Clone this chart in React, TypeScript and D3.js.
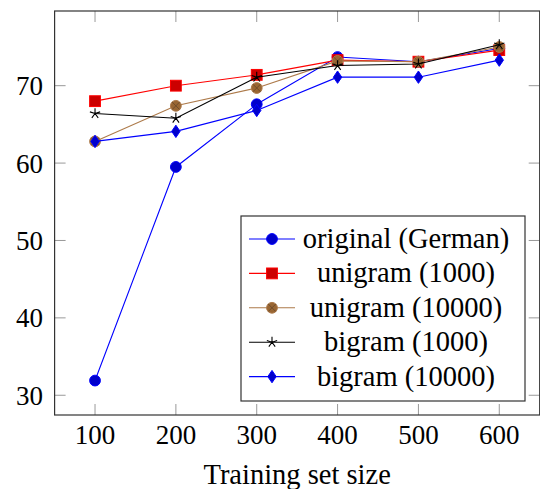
import React from "react";
import * as d3 from "d3";

const sizes = [100, 200, 300, 400, 500, 600];
const originalGerman = [31.9, 59.5, 67.6, 73.7, 73.1, 74.8];
const unigram1000 = [68.0, 70.0, 71.4, 73.3, 73.1, 74.6];
const unigram10000 = [62.8, 67.4, 69.7, 73.2, 73.1, 75.0];
const bigram1000 = [66.4, 65.8, 71.1, 72.6, 72.8, 75.3];
const bigram10000 = [62.8, 64.1, 66.8, 71.1, 71.1, 73.3];
const yTicks = [30, 40, 50, 60, 70];
const seriesNames = ["original (German)", "unigram (1000)", "unigram (10000)", "bigram (1000)", "bigram (10000)"];

type Mark = "circle" | "square" | "otimes" | "star" | "diamond";
const series: { name: string; values: number[]; line: string; fill: string; mark: Mark }[] = [
  { name: seriesNames[0], values: originalGerman, line: "#0000FF", fill: "#0000CC", mark: "circle" },
  { name: seriesNames[1], values: unigram1000, line: "#FF0000", fill: "#CC0000", mark: "square" },
  { name: seriesNames[2], values: unigram10000, line: "#AD7A4A", fill: "#996633", mark: "otimes" },
  { name: seriesNames[3], values: bigram1000, line: "#000000", fill: "#000000", mark: "star" },
  { name: seriesNames[4], values: bigram10000, line: "#0000FF", fill: "#0000CC", mark: "diamond" },
];

const W = 540, H = 489;
const left = 54.6, right = 539.7, top = 11, bottom = 415;
const FONT = "Times New Roman, Liberation Serif, Tinos, Times, DejaVu Serif, serif";

const x = d3.scaleLinear().domain([50, 650]).range([left, right]);
const y = d3.scaleLinear().domain([27.45, 79.65]).range([bottom, top]);

function Marker({ cx, cy, kind, line, fill }: { cx: number; cy: number; kind: Mark; line: string; fill: string }) {
  const r = 5.4;
  if (kind === "circle") return <circle cx={cx} cy={cy} r={r} fill={fill} stroke={line} strokeWidth={1} />;
  if (kind === "square") return <rect x={cx - r} y={cy - r} width={2 * r} height={2 * r} fill={fill} stroke={line} strokeWidth={1} />;
  if (kind === "otimes") {
    const d = r * 0.707;
    return (
      <g>
        <circle cx={cx} cy={cy} r={r} fill={fill} stroke={line} strokeWidth={1} />
        <path d={`M${cx - d},${cy - d}L${cx + d},${cy + d}M${cx - d},${cy + d}L${cx + d},${cy - d}`} stroke="#6b4a2a" strokeWidth={0.9} />
      </g>
    );
  }
  if (kind === "star") {
    const arms = d3.range(5).map((i) => {
      const a = -Math.PI / 2 + (i * 2 * Math.PI) / 5;
      return `M${cx},${cy}L${cx + r * Math.cos(a)},${cy + r * Math.sin(a)}`;
    });
    return <path d={arms.join("")} stroke={line} strokeWidth={1.1} fill="none" />;
  }
  const w = 4.2, h = 6.2;
  return <path d={`M${cx},${cy - h}L${cx + w},${cy}L${cx},${cy + h}L${cx - w},${cy}Z`} fill={fill} stroke={line} strokeWidth={1} />;
}

export default function App() {
  const lineGen = d3
    .line<number>()
    .x((_, i) => x(sizes[i]))
    .y((v) => y(v));
  const tickLen = 11;
  const legX = 241, legY = 216, legW = 284, legH = 185;
  const rowY0 = 239, rowStep = 34.4;
  return (
    <div style={{ fontFamily: FONT }}>
      <svg width={W} height={H} style={{ position: "absolute", left: 0, top: 0, background: "#fff" }} fontFamily={FONT}>
        {sizes.map((s) => (
          <g key={"xt" + s} stroke="#999" strokeWidth={1}>
            <line x1={x(s)} x2={x(s)} y1={bottom} y2={bottom - tickLen} />
            <line x1={x(s)} x2={x(s)} y1={top} y2={top + tickLen} />
          </g>
        ))}
        {yTicks.map((t) => (
          <g key={"yt" + t} stroke="#999" strokeWidth={1}>
            <line x1={left} x2={left + tickLen} y1={y(t)} y2={y(t)} />
            <line x1={right} x2={right - tickLen} y1={y(t)} y2={y(t)} />
          </g>
        ))}
        {series.map((s) => (
          <g key={s.name}>
            <path d={lineGen(s.values) || ""} fill="none" stroke={s.line} strokeWidth={1.1} />
            {s.values.map((v, i) => (
              <Marker key={i} cx={x(sizes[i])} cy={y(v)} kind={s.mark} line={s.line} fill={s.fill} />
            ))}
          </g>
        ))}
        <rect x={left} y={top} width={right - left} height={bottom - top} fill="none" stroke="#333" strokeWidth={1.2} />
        {sizes.map((s) => (
          <text key={"xl" + s} x={x(s)} y={444} textAnchor="middle" fontSize={27} fill="#000">
            {s}
          </text>
        ))}
        {yTicks.map((t) => (
          <text key={"yl" + t} x={43} y={y(t) + 9.5} textAnchor="end" fontSize={27} fill="#000">
            {t}
          </text>
        ))}
        <text x={(left + right) / 2} y={484} textAnchor="middle" fontSize={28.5} fill="#000">
          Training set size
        </text>
        <rect x={legX} y={legY} width={legW} height={legH} fill="#fff" stroke="#333" strokeWidth={1.2} />
        {series.map((s, i) => {
          const ry = rowY0 + i * rowStep;
          return (
            <g key={"lg" + i}>
              <line x1={249} x2={295} y1={ry} y2={ry} stroke={s.line} strokeWidth={1.1} />
              <Marker cx={272} cy={ry} kind={s.mark} line={s.line} fill={s.fill} />
              <text x={406} y={ry + 9} textAnchor="middle" fontSize={28.5} fill="#000">
                {s.name}
              </text>
            </g>
          );
        })}
      </svg>
    </div>
  );
}
